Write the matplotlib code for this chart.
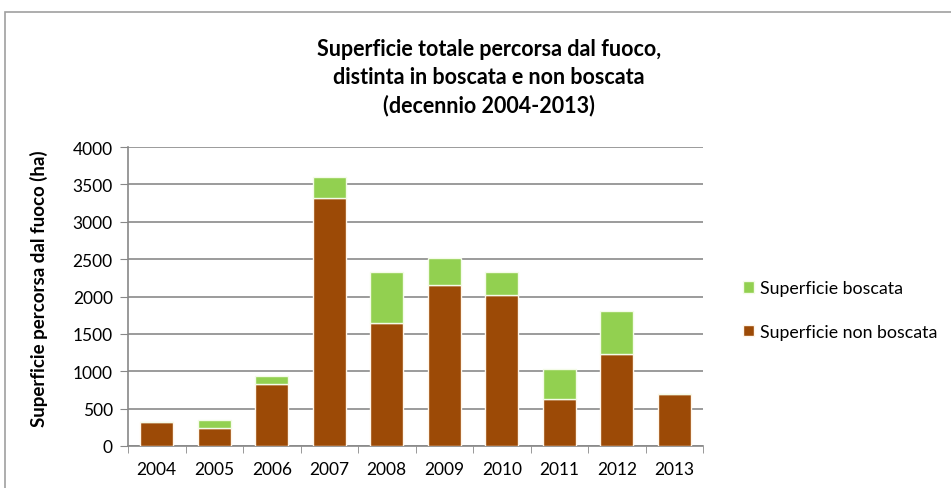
import matplotlib
matplotlib.use("Agg")
import matplotlib.pyplot as plt
from matplotlib.patches import Rectangle
import numpy as np

plt.rcParams['font.family'] = ['Lato', 'DejaVu Sans']

# data (ha)
anni = ['2004', '2005', '2006', '2007', '2008', '2009', '2010', '2011', '2012', '2013']
non_boscata = [315, 245, 825, 3320, 1640, 2155, 2015, 635, 1225, 695]
boscata = [0, 100, 105, 280, 685, 365, 310, 390, 575, 0]

col_bosc = '#92D050'
col_non = '#9C4A06'

fig = plt.figure(figsize=(9.51, 4.89), dpi=100)
ax = fig.add_axes([128/951, 42/489, 575/951, 299/489])

# outer chart border
fig.patches.append(Rectangle((5/951, -0.05), 1.0, 1.05 - 13/489, transform=fig.transFigure,
                             fill=False, edgecolor='#a0a0a0', linewidth=1.2))

x = np.arange(len(anni))
ax.bar(x, non_boscata, width=0.57, color=col_non, edgecolor='#fff6ea', linewidth=1,
       label='Superficie non boscata', zorder=3)
ax.bar(x, boscata, width=0.57, bottom=non_boscata, color=col_bosc, edgecolor='#f4fbe8',
       linewidth=1, label='Superficie boscata', zorder=3)

ax.set_xlim(-0.5, len(anni) - 0.5)
ax.set_ylim(0, 4000)
ax.set_yticks(np.arange(0, 4001, 500))
ax.set_xticks(x)
ax.set_xticklabels(anni)
ax.set_xticks(np.arange(-0.5, len(anni), 1), minor=True)
ax.tick_params(axis='x', which='major', length=0, labelsize=12.5, pad=11)
ax.tick_params(axis='x', which='minor', length=5, color='#888888', direction='out')
ax.tick_params(axis='y', length=6, color='#888888', labelsize=12.5, pad=5)
ax.grid(axis='y', color='#8a8a8a', linewidth=1.2, zorder=0)
for s in ['top', 'right']:
    ax.spines[s].set_visible(False)
ax.spines['left'].set_color('#888888')
ax.spines['bottom'].set_color('#888888')
ax.spines['left'].set_linewidth(1.2)
ax.spines['bottom'].set_linewidth(1.2)

ax.set_ylabel('Superficie percorsa dal fuoco (ha)', fontsize=13.5, fontweight='bold')
ax.yaxis.set_label_coords(-80/575, 0.53)

fig.text(489/951, 1 - 78/489,
         'Superficie totale percorsa dal fuoco,\ndistinta in boscata e non boscata\n(decennio 2004-2013)',
         ha='center', va='center', fontsize=15.5, fontweight='bold', linespacing=1.4)

handles, labels = ax.get_legend_handles_labels()
ax.legend(handles[::-1], labels[::-1], loc='center left', bbox_to_anchor=(734/951, 1 - 311/489),
          bbox_transform=fig.transFigure, frameon=False, fontsize=12.8, handlelength=0.6,
          handleheight=0.6, handletextpad=0.35, labelspacing=1.55, borderpad=0)

fig.savefig('out.png', dpi=100)
